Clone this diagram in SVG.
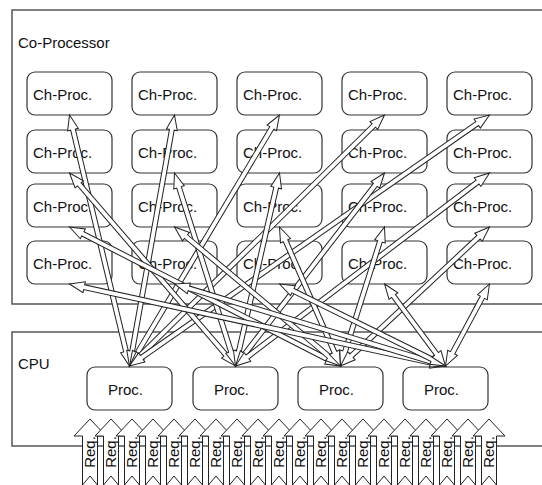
<svg xmlns="http://www.w3.org/2000/svg" xmlns:xlink="http://www.w3.org/1999/xlink" width="542" height="485" viewBox="0 0 542 485">
<style>
.frame{fill:#fff;stroke:#555;stroke-width:1.5}
.box{fill:#fff;stroke:#333;stroke-width:1.2}
.lbl{font-family:"Liberation Sans",Arial,sans-serif;font-size:15px;fill:#111}
.conn polygon{fill:#fff;stroke:#222;stroke-width:1;stroke-linejoin:miter}
.reqa{fill:#fff;stroke:#222;stroke-width:1}
</style>
<defs>
<polygon id="reqShape" class="reqa" points="0,419 16,436 7.5,436 7.5,485 0,476 -7.5,485 -7.5,436 -16,436"/>
</defs>
<rect width="542" height="485" fill="#fff"/>
<g id="coprocessor">
<rect class="frame" x="12" y="10" width="560" height="294"/>
<text class="lbl" x="18" y="48">Co-Processor</text>
</g>
<g id="cpu">
<rect class="frame" x="12" y="332" width="560" height="114"/>
<text class="lbl" x="18" y="369">CPU</text>
</g>
<g id="ch-r1c1"><rect class="box" x="27" y="72" width="85" height="43" rx="8"/><text class="lbl" x="33" y="100">Ch-Proc.</text></g>
<g id="ch-r1c2"><rect class="box" x="132" y="72" width="85" height="43" rx="8"/><text class="lbl" x="138" y="100">Ch-Proc.</text></g>
<g id="ch-r1c3"><rect class="box" x="237" y="72" width="85" height="43" rx="8"/><text class="lbl" x="243" y="100">Ch-Proc.</text></g>
<g id="ch-r1c4"><rect class="box" x="342" y="72" width="85" height="43" rx="8"/><text class="lbl" x="348" y="100">Ch-Proc.</text></g>
<g id="ch-r1c5"><rect class="box" x="447" y="72" width="85" height="43" rx="8"/><text class="lbl" x="453" y="100">Ch-Proc.</text></g>
<g id="ch-r2c1"><rect class="box" x="27" y="130" width="85" height="43" rx="8"/><text class="lbl" x="33" y="158">Ch-Proc.</text></g>
<g id="ch-r2c2"><rect class="box" x="132" y="130" width="85" height="43" rx="8"/><text class="lbl" x="138" y="158">Ch-Proc.</text></g>
<g id="ch-r2c3"><rect class="box" x="237" y="130" width="85" height="43" rx="8"/><text class="lbl" x="243" y="158">Ch-Proc.</text></g>
<g id="ch-r2c4"><rect class="box" x="342" y="130" width="85" height="43" rx="8"/><text class="lbl" x="348" y="158">Ch-Proc.</text></g>
<g id="ch-r2c5"><rect class="box" x="447" y="130" width="85" height="43" rx="8"/><text class="lbl" x="453" y="158">Ch-Proc.</text></g>
<g id="ch-r3c1"><rect class="box" x="27" y="184" width="85" height="43" rx="8"/><text class="lbl" x="33" y="212">Ch-Proc.</text></g>
<g id="ch-r3c2"><rect class="box" x="132" y="184" width="85" height="43" rx="8"/><text class="lbl" x="138" y="212">Ch-Proc.</text></g>
<g id="ch-r3c3"><rect class="box" x="237" y="184" width="85" height="43" rx="8"/><text class="lbl" x="243" y="212">Ch-Proc.</text></g>
<g id="ch-r3c4"><rect class="box" x="342" y="184" width="85" height="43" rx="8"/><text class="lbl" x="348" y="212">Ch-Proc.</text></g>
<g id="ch-r3c5"><rect class="box" x="447" y="184" width="85" height="43" rx="8"/><text class="lbl" x="453" y="212">Ch-Proc.</text></g>
<g id="ch-r4c1"><rect class="box" x="27" y="241" width="85" height="43" rx="8"/><text class="lbl" x="33" y="269">Ch-Proc.</text></g>
<g id="ch-r4c2"><rect class="box" x="132" y="241" width="85" height="43" rx="8"/><text class="lbl" x="138" y="269">Ch-Proc.</text></g>
<g id="ch-r4c3"><rect class="box" x="237" y="241" width="85" height="43" rx="8"/><text class="lbl" x="243" y="269">Ch-Proc.</text></g>
<g id="ch-r4c4"><rect class="box" x="342" y="241" width="85" height="43" rx="8"/><text class="lbl" x="348" y="269">Ch-Proc.</text></g>
<g id="ch-r4c5"><rect class="box" x="447" y="241" width="85" height="43" rx="8"/><text class="lbl" x="453" y="269">Ch-Proc.</text></g>
<g id="proc1"><rect class="box" x="87" y="367" width="85" height="43" rx="8"/><text class="lbl" x="108" y="395">Proc.</text></g>
<g id="proc2"><rect class="box" x="193" y="367" width="85" height="43" rx="8"/><text class="lbl" x="214" y="395">Proc.</text></g>
<g id="proc3"><rect class="box" x="298" y="367" width="85" height="43" rx="8"/><text class="lbl" x="319" y="395">Proc.</text></g>
<g id="proc4"><rect class="box" x="403" y="367" width="85" height="43" rx="8"/><text class="lbl" x="424" y="395">Proc.</text></g>
<g id="connectors" class="conn">
<polygon transform="translate(69.5,115) rotate(76.56)" points="0,0 15,-5.5 15,-2.4 243.1,-2.4 243.1,-5.5 258.1,0 243.1,5.5 243.1,2.4 15,2.4 15,5.5"/>
<polygon transform="translate(174.5,115) rotate(100.16)" points="0,0 15,-5.5 15,-2.4 240,-2.4 240,-5.5 255,0 240,5.5 240,2.4 15,2.4 15,5.5"/>
<polygon transform="translate(279.5,115) rotate(120.86)" points="0,0 15,-5.5 15,-2.4 277.4,-2.4 277.4,-5.5 292.4,0 277.4,5.5 277.4,2.4 15,2.4 15,5.5"/>
<polygon transform="translate(384.5,115) rotate(135.45)" points="0,0 15,-5.5 15,-2.4 342.8,-2.4 342.8,-5.5 357.8,0 342.8,5.5 342.8,2.4 15,2.4 15,5.5"/>
<polygon transform="translate(489.5,115) rotate(145.12)" points="0,0 15,-5.5 15,-2.4 423.9,-2.4 423.9,-5.5 438.9,0 423.9,5.5 423.9,2.4 15,2.4 15,5.5"/>
<polygon transform="translate(69.5,173) rotate(49.30)" points="0,0 15,-5.5 15,-2.4 239.6,-2.4 239.6,-5.5 254.6,0 239.6,5.5 239.6,2.4 15,2.4 15,5.5"/>
<polygon transform="translate(174.5,173) rotate(72.46)" points="0,0 15,-5.5 15,-2.4 187.4,-2.4 187.4,-5.5 202.4,0 187.4,5.5 187.4,2.4 15,2.4 15,5.5"/>
<polygon transform="translate(279.5,173) rotate(102.84)" points="0,0 15,-5.5 15,-2.4 183,-2.4 183,-5.5 198,0 183,5.5 183,2.4 15,2.4 15,5.5"/>
<polygon transform="translate(384.5,173) rotate(127.67)" points="0,0 15,-5.5 15,-2.4 228.8,-2.4 228.8,-5.5 243.8,0 228.8,5.5 228.8,2.4 15,2.4 15,5.5"/>
<polygon transform="translate(489.5,173) rotate(142.77)" points="0,0 15,-5.5 15,-2.4 304,-2.4 304,-5.5 319,0 304,5.5 304,2.4 15,2.4 15,5.5"/>
<polygon transform="translate(69.5,227) rotate(27.15)" points="0,0 15,-5.5 15,-2.4 289.6,-2.4 289.6,-5.5 304.6,0 289.6,5.5 289.6,2.4 15,2.4 15,5.5"/>
<polygon transform="translate(174.5,227) rotate(39.94)" points="0,0 15,-5.5 15,-2.4 201.5,-2.4 201.5,-5.5 216.5,0 201.5,5.5 201.5,2.4 15,2.4 15,5.5"/>
<polygon transform="translate(279.5,227) rotate(66.31)" points="0,0 15,-5.5 15,-2.4 136.8,-2.4 136.8,-5.5 151.8,0 136.8,5.5 136.8,2.4 15,2.4 15,5.5"/>
<polygon transform="translate(384.5,227) rotate(107.56)" points="0,0 15,-5.5 15,-2.4 130.8,-2.4 130.8,-5.5 145.8,0 130.8,5.5 130.8,2.4 15,2.4 15,5.5"/>
<polygon transform="translate(489.5,227) rotate(136.99)" points="0,0 15,-5.5 15,-2.4 188.8,-2.4 188.8,-5.5 203.8,0 188.8,5.5 188.8,2.4 15,2.4 15,5.5"/>
<polygon transform="translate(69.5,284) rotate(12.30)" points="0,0 15,-5.5 15,-2.4 369.8,-2.4 369.8,-5.5 384.8,0 369.8,5.5 369.8,2.4 15,2.4 15,5.5"/>
<polygon transform="translate(174.5,284) rotate(16.84)" points="0,0 15,-5.5 15,-2.4 268.1,-2.4 268.1,-5.5 283.1,0 268.1,5.5 268.1,2.4 15,2.4 15,5.5"/>
<polygon transform="translate(279.5,284) rotate(26.29)" points="0,0 15,-5.5 15,-2.4 170.2,-2.4 170.2,-5.5 185.2,0 170.2,5.5 170.2,2.4 15,2.4 15,5.5"/>
<polygon transform="translate(384.5,284) rotate(53.35)" points="0,0 15,-5.5 15,-2.4 87.2,-2.4 87.2,-5.5 102.2,0 87.2,5.5 87.2,2.4 15,2.4 15,5.5"/>
<polygon transform="translate(489.5,284) rotate(118.22)" points="0,0 15,-5.5 15,-2.4 78.1,-2.4 78.1,-5.5 93.1,0 78.1,5.5 78.1,2.4 15,2.4 15,5.5"/>
</g>
<g id="req1" transform="translate(90,0)"><use xlink:href="#reqShape"/><text class="lbl" transform="translate(4.5,452) rotate(-90)" text-anchor="middle">Req.</text></g>
<g id="req2" transform="translate(111,0)"><use xlink:href="#reqShape"/><text class="lbl" transform="translate(4.5,452) rotate(-90)" text-anchor="middle">Req.</text></g>
<g id="req3" transform="translate(132,0)"><use xlink:href="#reqShape"/><text class="lbl" transform="translate(4.5,452) rotate(-90)" text-anchor="middle">Req.</text></g>
<g id="req4" transform="translate(153,0)"><use xlink:href="#reqShape"/><text class="lbl" transform="translate(4.5,452) rotate(-90)" text-anchor="middle">Req.</text></g>
<g id="req5" transform="translate(174,0)"><use xlink:href="#reqShape"/><text class="lbl" transform="translate(4.5,452) rotate(-90)" text-anchor="middle">Req.</text></g>
<g id="req6" transform="translate(195,0)"><use xlink:href="#reqShape"/><text class="lbl" transform="translate(4.5,452) rotate(-90)" text-anchor="middle">Req.</text></g>
<g id="req7" transform="translate(216,0)"><use xlink:href="#reqShape"/><text class="lbl" transform="translate(4.5,452) rotate(-90)" text-anchor="middle">Req.</text></g>
<g id="req8" transform="translate(237,0)"><use xlink:href="#reqShape"/><text class="lbl" transform="translate(4.5,452) rotate(-90)" text-anchor="middle">Req.</text></g>
<g id="req9" transform="translate(258,0)"><use xlink:href="#reqShape"/><text class="lbl" transform="translate(4.5,452) rotate(-90)" text-anchor="middle">Req.</text></g>
<g id="req10" transform="translate(279,0)"><use xlink:href="#reqShape"/><text class="lbl" transform="translate(4.5,452) rotate(-90)" text-anchor="middle">Req.</text></g>
<g id="req11" transform="translate(300,0)"><use xlink:href="#reqShape"/><text class="lbl" transform="translate(4.5,452) rotate(-90)" text-anchor="middle">Req.</text></g>
<g id="req12" transform="translate(321,0)"><use xlink:href="#reqShape"/><text class="lbl" transform="translate(4.5,452) rotate(-90)" text-anchor="middle">Req.</text></g>
<g id="req13" transform="translate(342,0)"><use xlink:href="#reqShape"/><text class="lbl" transform="translate(4.5,452) rotate(-90)" text-anchor="middle">Req.</text></g>
<g id="req14" transform="translate(363,0)"><use xlink:href="#reqShape"/><text class="lbl" transform="translate(4.5,452) rotate(-90)" text-anchor="middle">Req.</text></g>
<g id="req15" transform="translate(384,0)"><use xlink:href="#reqShape"/><text class="lbl" transform="translate(4.5,452) rotate(-90)" text-anchor="middle">Req.</text></g>
<g id="req16" transform="translate(405,0)"><use xlink:href="#reqShape"/><text class="lbl" transform="translate(4.5,452) rotate(-90)" text-anchor="middle">Req.</text></g>
<g id="req17" transform="translate(426,0)"><use xlink:href="#reqShape"/><text class="lbl" transform="translate(4.5,452) rotate(-90)" text-anchor="middle">Req.</text></g>
<g id="req18" transform="translate(447,0)"><use xlink:href="#reqShape"/><text class="lbl" transform="translate(4.5,452) rotate(-90)" text-anchor="middle">Req.</text></g>
<g id="req19" transform="translate(468,0)"><use xlink:href="#reqShape"/><text class="lbl" transform="translate(4.5,452) rotate(-90)" text-anchor="middle">Req.</text></g>
<g id="req20" transform="translate(489,0)"><use xlink:href="#reqShape"/><text class="lbl" transform="translate(4.5,452) rotate(-90)" text-anchor="middle">Req.</text></g>
</svg>
